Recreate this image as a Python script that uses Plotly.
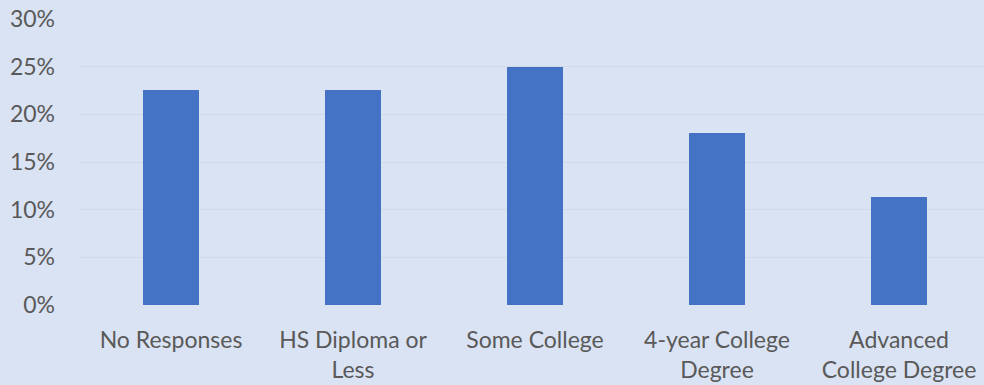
import plotly.graph_objects as go

categories = ["No Responses", "HS Diploma or<br>Less", "Some College", "4-year College<br>Degree", "Advanced<br>College Degree"]
values = [0.226, 0.226, 0.25, 0.18, 0.113]
y_ticks = [0, 0.05, 0.10, 0.15, 0.20, 0.25, 0.30]
y_tick_labels = ["0%", "5%", "10%", "15%", "20%", "25%", "30%"]

fig = go.Figure(go.Bar(x=list(range(len(categories))), y=values, marker=dict(color="#4472C4", line=dict(width=0)), width=0.313))

fig.update_layout(
    width=984, height=385,
    margin=dict(l=80, r=0, t=19, b=80),
    paper_bgcolor="#DAE3F3", plot_bgcolor="#DAE3F3",
    font=dict(family="Lato, Open Sans, sans-serif", size=23, color="#595959"),
    showlegend=False,
    bargap=0,
)
fig.update_xaxes(range=[-0.5, 4.467], tickvals=list(range(len(categories))), ticktext=categories,
                 showgrid=False, zeroline=False, showline=False, ticks="", ticklabelstandoff=19)
fig.update_yaxes(range=[0, 0.30], tickvals=y_ticks, ticktext=y_tick_labels,
                 showgrid=True, gridcolor="#D3D9E4", gridwidth=1, zeroline=False, showline=False,
                 ticks="", ticklabelstandoff=24)

fig.write_html("out.html", config={"displayModeBar": False},
               post_script="document.body.style.margin='0';document.body.style.background='#DAE3F3';")
